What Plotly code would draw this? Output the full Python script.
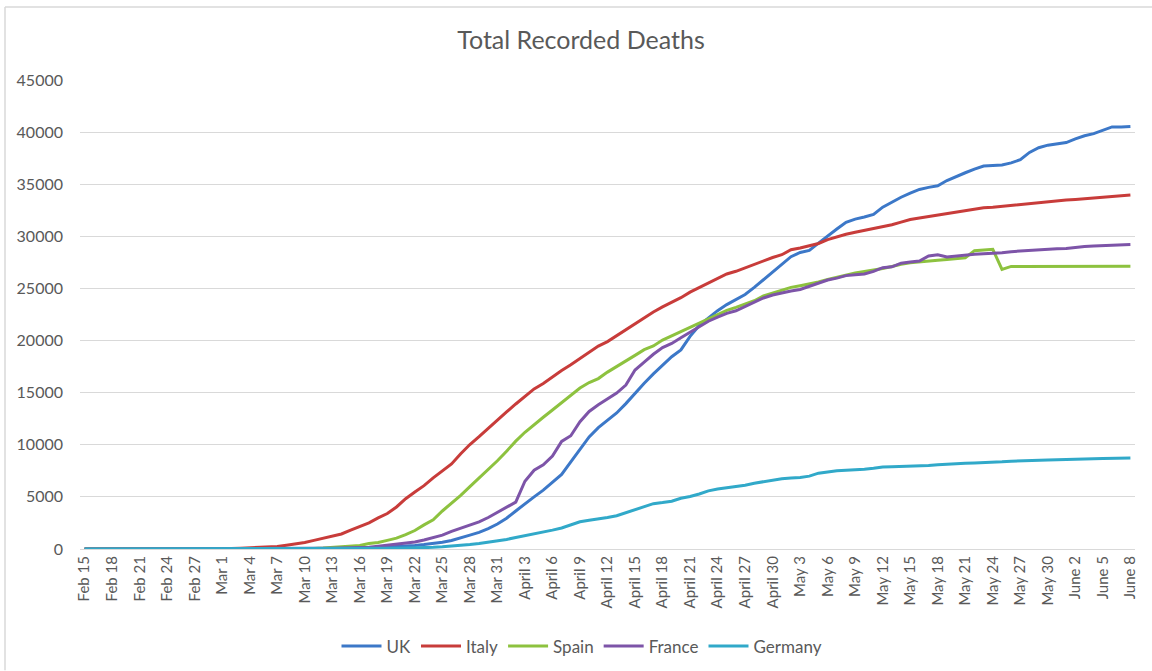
import plotly.graph_objects as go

# ---- categories (Feb 15 .. June 8, daily) ----
month_spec = [("Feb", 15, 29), ("Mar", 1, 31), ("April", 1, 30), ("May", 1, 31), ("June", 1, 8)]
dates = [f"{m} {d}" for m, a, b in month_spec for d in range(a, b + 1)]

uk = ([0] * 15 + [0, 0, 0, 0] +
      [1, 2, 2, 3, 4, 6, 8, 10, 21, 35, 55, 71, 104, 144, 177, 233, 281, 335, 422, 520,
       650, 820, 1050, 1330, 1600, 1950, 2400] +
      [2950, 3650, 4350, 5000, 5650, 6400, 7150, 8350, 9600, 10750,
       11650, 12350, 13050, 13950, 14950, 15900, 16800, 17600, 18450, 19100,
       20400, 21450, 22150, 22870, 23450, 23950, 24420, 25100, 25850, 26550] +
      [27300, 28050, 28450, 28650, 29350, 30050, 30700, 31350, 31650, 31850,
       32100, 32800, 33300, 33750, 34150, 34500, 34700, 34850, 35350, 35750,
       36100, 36450, 36750, 36800, 36850, 37050, 37350, 38050, 38500, 38750, 38900] +
      [39000, 39350, 39650, 39850, 40200, 40500, 40500, 40550])

italy = ([0, 0, 0, 0, 0, 0, 1, 2, 3, 7, 10, 12, 17, 21, 29] +
         [34, 52, 79, 107, 148, 197, 233, 366, 463, 631, 827, 1016, 1266, 1441, 1809, 2158,
          2503, 2978, 3405, 4032, 4825, 5476, 6077, 6820, 7503, 8165, 9134, 10023, 10779,
          11591, 12428] +
         [13155, 13915, 14681, 15362, 15887, 16523, 17127, 17669, 18279, 18849,
          19468, 19899, 20465, 21067, 21645, 22170, 22745, 23227, 23660, 24114,
          24648, 25085, 25549, 25969, 26384, 26644, 26977, 27359, 27682, 27967] +
         [28236, 28710, 28884, 29079, 29315, 29684, 29958, 30201, 30395, 30560,
          30739, 30911, 31106, 31368, 31610, 31763, 31908, 32007, 32169, 32330,
          32486, 32616, 32735, 32785, 32877, 32955, 33072, 33142, 33229, 33340, 33415] +
         [33475, 33530, 33601, 33689, 33774, 33846, 33899, 33964])

spain = ([0] * 15 +
         [0, 0, 1, 2, 3, 5, 10, 17, 28, 35, 54, 84, 133, 195, 289, 342, 533, 623, 830, 1043,
          1375, 1772, 2311, 2808, 3647, 4365, 5138, 5982, 6803, 7716, 8464] +
         [9387, 10348, 11198, 11947, 12641, 13341, 14045, 14792, 15447, 15970,
          16353, 16972, 17489, 18056, 18579, 19130, 19478, 20043, 20453, 20852,
          21282, 21717, 22157, 22524, 22902, 23190, 23521, 23822, 24275, 24543] +
         [24824, 25100, 25264, 25428, 25613, 25857, 26070, 26299, 26478, 26621,
          26744, 26920, 27104, 27321, 27459, 27563, 27650, 27709, 27778, 27888,
          27940, 28628, 28678, 28752, 26834, 27117, 27117, 27118, 27121, 27125, 27127] +
         [27127, 27127, 27128, 27133, 27134, 27135, 27136, 27136])

france = ([1] * 11 + [2, 2, 2, 2] +
          [2, 3, 4, 4, 6, 9, 11, 19, 25, 33, 48, 61, 79, 91, 127, 148, 175, 264, 372, 450,
           562, 674, 860, 1100, 1331, 1696, 1995, 2314, 2606, 3024, 3523] +
          [4032, 4503, 6507, 7560, 8078, 8911, 10328, 10869, 12210, 13197,
           13832, 14393, 14967, 15729, 17167, 17920, 18681, 19323, 19718, 20265,
           20796, 21340, 21856, 22245, 22614, 22856, 23293, 23660, 24087, 24376] +
          [24594, 24760, 24895, 25201, 25531, 25809, 25987, 26230, 26310, 26380,
           26643, 26991, 27074, 27425, 27529, 27625, 28108, 28239, 28022, 28132,
           28215, 28289, 28332, 28367, 28432, 28530, 28596, 28662, 28714, 28771, 28802] +
          [28833, 28940, 29021, 29065, 29111, 29142, 29155, 29209])

germany = ([0] * 15 +
           [0, 0, 0, 0, 0, 0, 0, 0, 2, 2, 3, 6, 8, 12, 13, 17, 24, 28, 44, 67,
            84, 94, 123, 157, 206, 267, 342, 433, 533, 645, 775] +
           [920, 1107, 1275, 1444, 1584, 1810, 2016, 2349, 2607, 2767,
            2871, 3022, 3194, 3495, 3804, 4052, 4352, 4459, 4586, 4862,
            5033, 5279, 5575, 5760, 5877, 5976, 6126, 6314, 6467, 6623] +
           [6736, 6812, 6866, 6993, 7275, 7392, 7510, 7549, 7569, 7661,
            7738, 7861, 7884, 7897, 7938, 7962, 8003, 8081, 8144, 8203,
            8228, 8261, 8283, 8309, 8372, 8428, 8470, 8504, 8530, 8540, 8555] +
           [8563, 8602, 8635, 8658, 8673, 8685, 8695, 8736])

series_names = ["UK", "Italy", "Spain", "France", "Germany"]
series_values = [uk, italy, spain, france, germany]
series_colors = ["#3C78C8", "#C83C3A", "#8DC23F", "#7D54A8", "#31A9C9"]

y_ticks = list(range(0, 45001, 5000))
x_tick_labels = dates[::3]

fig = go.Figure()
for name, vals, col in zip(series_names, series_values, series_colors):
    fig.add_trace(go.Scatter(x=dates, y=vals, mode="lines", name=name,
                             line=dict(color=col, width=3)))

FONT = "Lato, 'Open Sans', sans-serif"
L, R, T, B = 80, 17, 80, 121.5
W, H = 1152, 671
pw, ph = W - L - R, H - T - B

def px_to_paper_x(px):
    return (px - L) / pw

def px_to_paper_y(py):
    return (H - B - py) / ph

fig.update_layout(
    width=W, height=H,
    margin=dict(l=L, r=R, t=T, b=B, pad=0, autoexpand=False),
    paper_bgcolor="white", plot_bgcolor="white",
    font=dict(family=FONT, color="#595959", size=13),
    title=dict(text="Total Recorded Deaths", x=581 / W, xref="container", xanchor="center",
               y=1 - 40 / H, yref="container", yanchor="middle",
               font=dict(family=FONT, size=25, color="#595959")),
    showlegend=True,
    legend=dict(orientation="h", x=px_to_paper_x(582), xanchor="center",
                y=px_to_paper_y(647), yanchor="middle",
                font=dict(family=FONT, size=17, color="#595959"),
                itemwidth=40, traceorder="normal"),
    shapes=[
        dict(type="line", xref="paper", yref="paper",
             x0=px_to_paper_x(5), x1=px_to_paper_x(1152),
             y0=px_to_paper_y(7), y1=px_to_paper_y(7),
             line=dict(color="#D9D9D9", width=1.5)),
        dict(type="line", xref="paper", yref="paper",
             x0=px_to_paper_x(5), x1=px_to_paper_x(5),
             y0=px_to_paper_y(7), y1=px_to_paper_y(671),
             line=dict(color="#D9D9D9", width=1.5)),
    ],
)

fig.update_xaxes(type="category", categoryorder="array", categoryarray=dates,
                 range=[-0.5, len(dates) - 0.5], automargin=False,
                 tickmode="array", tickvals=x_tick_labels, ticktext=x_tick_labels,
                 tickangle=-90, tickfont=dict(family=FONT, size=15, color="#595959"),
                 showgrid=False, showline=True, linecolor="#D9D9D9", linewidth=1,
                 ticks="", fixedrange=True)

fig.update_yaxes(range=[0, 45000], tickmode="array", tickvals=y_ticks, automargin=False,
                 ticktext=[str(v) for v in y_ticks],
                 tickfont=dict(family=FONT, size=16, color="#595959"),
                 showgrid=True, gridcolor="#D9D9D9", gridwidth=1,
                 zeroline=False, showline=False, ticks="",
                 ticklabelstandoff=16, fixedrange=True)

fig.write_html("out.html", config={"displayModeBar": False},
               post_script="document.body.style.margin='0';document.body.style.overflow='hidden';")
